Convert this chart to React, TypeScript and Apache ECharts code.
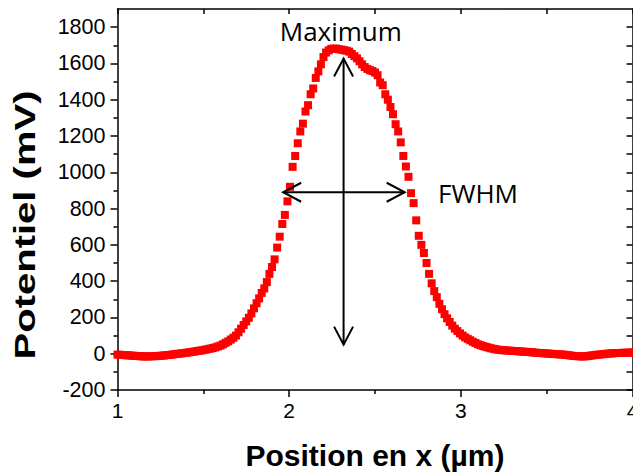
import React, { useEffect, useRef } from "react";
import * as echarts from "echarts";

// Sampling grid of the measured profile (µm)
const X_START = 1.0;
const X_STEP = 0.015;

// Potentiel (mV), one value per sample
const potentiel: number[] = [
  -5, -6, -7, -8, -9, -10, -11, -12, -13, -14,
  -15, -15, -15, -14, -14, -13, -12, -11, -10, -8,
  -7, -5, -3, -1, 0, 2, 4, 6, 8, 10,
  12, 15, 17, 19, 22, 25, 28, 31, 35, 40,
  45, 52, 60, 68, 78, 88, 100, 118, 138, 158,
  178, 198, 222, 250, 278, 305, 335, 360, 395, 440,
  478, 520, 585, 645, 715, 765, 840, 920, 1030, 1090,
  1160, 1225, 1268, 1335, 1370, 1430, 1462, 1520, 1556, 1595,
  1635, 1660, 1672, 1680, 1682, 1681, 1678, 1676, 1673, 1670,
  1665, 1652, 1640, 1628, 1612, 1595, 1580, 1570, 1563, 1558,
  1550, 1535, 1495, 1480, 1430, 1400, 1360, 1320, 1265, 1225,
  1165, 1090, 1032, 975, 885, 830, 735, 650, 600, 555,
  500, 440, 388, 345, 312, 275, 245, 218, 195, 175,
  155, 138, 125, 112, 100, 90, 82, 74, 66, 59,
  52, 47, 42, 38, 34, 30, 27, 24, 22, 20,
  19, 18, 17, 16, 15, 14, 13, 12, 11, 10,
  9, 8, 6, 5, 4, 3, 2, 1, 0, -1,
  -2, -3, -4, -5, -6, -8, -10, -12, -13, -14,
  -15, -15, -14, -12, -10, -8, -6, -5, -3, -2,
  0, 1, 2, 3, 4, 4, 5, 5, 6, 6,
  7,
];

const X_MIN = 1;
const X_MAX = 4;
const X_INTERVAL = 1;
const Y_MIN = -200;
const Y_MAX = 1900;
const Y_INTERVAL = 200;
const Y_TICK_VALUES = [-200, 0, 200, 400, 600, 800, 1000, 1200, 1400, 1600, 1800];

const X_TITLE = "Position en x (µm)";
const Y_TITLE = "Potentiel (mV)";

// Annotation anchors in data units
const MAX_ARROW = { x: 2.317, top: 1627, bottom: 50 };
const FWHM_ARROW = { y: 890, left: 1.965, right: 2.673 };
const LABEL_MAX = { text: "Maximum", x: 2.301, y: 1778 };
const LABEL_FWHM = { text: "FWHM", x: 2.867, y: 886 };

const BLACK = "#000000";
const RED = "#ff0000";
const LABEL_FONT = "Liberation Sans";

export default function App() {
  const ref = useRef<HTMLDivElement>(null);

  useEffect(() => {
    if (!ref.current) return;
    const chart = echarts.init(ref.current, null, { renderer: "svg" });

    const axisLine = { show: true, onZero: false, lineStyle: { color: BLACK, width: 1.5 } };
    const tickStyle = { color: BLACK, width: 1.5 };

    const data = potentiel.map((v, i) => [X_START + i * X_STEP, v]);

    chart.setOption({
      animation: false,
      backgroundColor: "#ffffff",
      grid: {
        left: 117.5,
        top: 9,
        right: 0.5,
        bottom: 83,
        containLabel: false,
        outerBoundsMode: "none",
      },
      xAxis: [
        {
          type: "value",
          position: "bottom",
          min: X_MIN,
          max: X_MAX,
          interval: X_INTERVAL,
          axisLine,
          axisTick: { show: true, inside: false, length: 7, lineStyle: tickStyle },
          minorTick: { show: true, splitNumber: 2, length: 4, lineStyle: tickStyle },
          splitLine: { show: false },
          minorSplitLine: { show: false },
          axisLabel: {
            show: true,
            margin: 10,
            color: BLACK,
            fontSize: 21,
            fontFamily: LABEL_FONT,
          },
        },
        {
          type: "value",
          position: "top",
          min: X_MIN,
          max: X_MAX,
          interval: X_INTERVAL,
          axisLine,
          axisTick: { show: true, inside: true, length: 5, lineStyle: tickStyle },
          minorTick: { show: true, splitNumber: 2, length: 5, lineStyle: tickStyle },
          splitLine: { show: false },
          axisLabel: { show: false },
        },
      ],
      yAxis: [
        {
          type: "value",
          position: "left",
          min: Y_MIN,
          max: Y_MAX,
          interval: Y_INTERVAL,
          axisLine,
          axisTick: { show: true, inside: false, length: 7, lineStyle: tickStyle, customValues: Y_TICK_VALUES },
          minorTick: { show: true, splitNumber: 2, length: 4, lineStyle: tickStyle },
          splitLine: { show: false },
          minorSplitLine: { show: false },
          axisLabel: {
            show: true,
            margin: 12,
            color: BLACK,
            fontSize: 21.5,
            fontFamily: LABEL_FONT,
            customValues: Y_TICK_VALUES,
            formatter: (v: number) => (Y_TICK_VALUES.indexOf(v) >= 0 ? String(v) : ""),
          },
        },
        {
          type: "value",
          position: "right",
          min: Y_MIN,
          max: Y_MAX,
          interval: Y_INTERVAL,
          axisLine,
          axisTick: { show: true, inside: true, length: 6, lineStyle: tickStyle, customValues: Y_TICK_VALUES },
          minorTick: { show: true, splitNumber: 2, length: 6, lineStyle: tickStyle },
          splitLine: { show: false },
          axisLabel: { show: false },
        },
      ],
      series: [
        {
          type: "scatter",
          xAxisIndex: 0,
          yAxisIndex: 0,
          symbol: "rect",
          symbolSize: 8,
          itemStyle: { color: RED, opacity: 1 },
          data,
          clip: false,
          z: 3,
        },
      ],
    });

    const p = (x: number, y: number) =>
      chart.convertToPixel({ seriesIndex: 0 }, [x, y]) as number[];

    const vTop = p(MAX_ARROW.x, MAX_ARROW.top);
    const vBot = p(MAX_ARROW.x, MAX_ARROW.bottom);
    const hL = p(FWHM_ARROW.left, FWHM_ARROW.y);
    const hR = p(FWHM_ARROW.right, FWHM_ARROW.y);
    const tMax = p(LABEL_MAX.x, LABEL_MAX.y);
    const tFwhm = p(LABEL_FWHM.x, LABEL_FWHM.y);

    const headLen = 18;
    const headHalf = 9.5;
    const arrowStyle = { stroke: BLACK, lineWidth: 2, fill: null };

    chart.setOption({
      graphic: [
        { type: "polyline", z: 10, shape: { points: [vTop, vBot] }, style: arrowStyle },
        {
          type: "polyline",
          z: 10,
          shape: { points: [[vTop[0] - headHalf, vTop[1] + headLen], vTop, [vTop[0] + headHalf, vTop[1] + headLen]] },
          style: arrowStyle,
        },
        {
          type: "polyline",
          z: 10,
          shape: { points: [[vBot[0] - headHalf, vBot[1] - headLen], vBot, [vBot[0] + headHalf, vBot[1] - headLen]] },
          style: arrowStyle,
        },
        { type: "polyline", z: 10, shape: { points: [hL, hR] }, style: arrowStyle },
        {
          type: "polyline",
          z: 10,
          shape: { points: [[hL[0] + headLen, hL[1] - headHalf], hL, [hL[0] + headLen, hL[1] + headHalf]] },
          style: arrowStyle,
        },
        {
          type: "polyline",
          z: 10,
          shape: { points: [[hR[0] - headLen, hR[1] - headHalf], hR, [hR[0] - headLen, hR[1] + headHalf]] },
          style: arrowStyle,
        },
        {
          type: "text",
          z: 10,
          x: tMax[0],
          y: tMax[1],
          style: {
            text: LABEL_MAX.text,
            fill: BLACK,
            font: 'normal 26px "Open Sans"',
            textAlign: "center",
            textVerticalAlign: "middle",
          },
        },
        {
          type: "text",
          z: 10,
          x: tFwhm[0],
          y: tFwhm[1],
          style: {
            text: LABEL_FWHM.text,
            fill: BLACK,
            font: 'normal 26px "Open Sans"',
            textAlign: "left",
            textVerticalAlign: "middle",
          },
        },
        {
          type: "text",
          z: 10,
          x: 375,
          y: 455,
          style: {
            text: X_TITLE,
            fill: BLACK,
            font: 'bold 30px "Liberation Sans"',
            textAlign: "center",
            textVerticalAlign: "middle",
          },
        },
        {
          type: "text",
          z: 10,
          x: 25,
          y: 225,
          rotation: Math.PI / 2,
          scaleX: 1.38,
          style: {
            text: Y_TITLE,
            fill: BLACK,
            font: 'bold 29px "Liberation Sans"',
            textAlign: "center",
            textVerticalAlign: "middle",
          },
        },
      ],
    });

    return () => chart.dispose();
  }, []);

  return (
    <div
      ref={ref}
      style={{ position: "fixed", left: 0, top: 0, width: 633, height: 473, background: "#ffffff" }}
    />
  );
}
